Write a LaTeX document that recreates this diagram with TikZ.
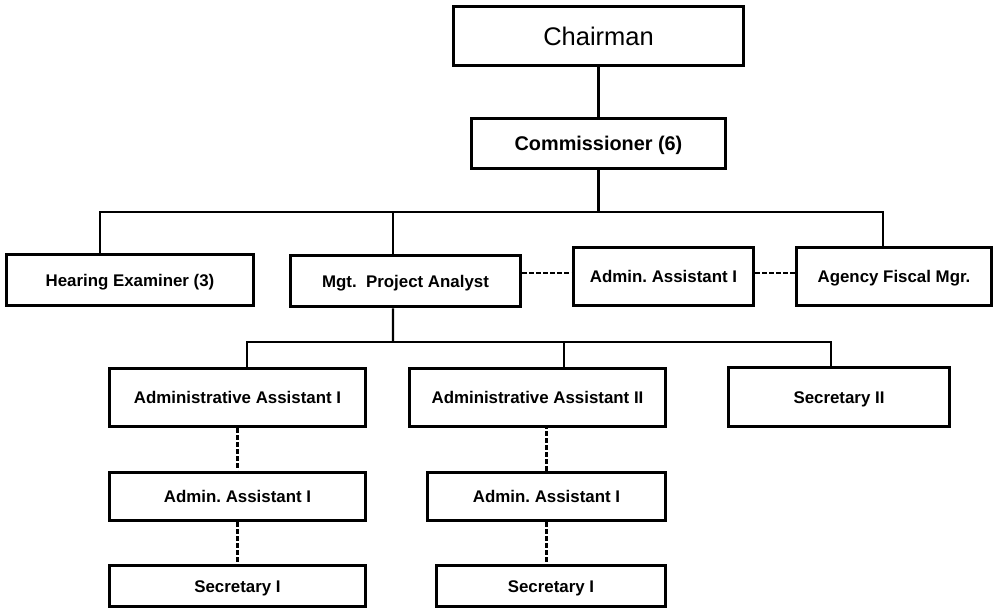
\documentclass[tikz,border=0pt]{standalone}
\usepackage{fontspec}
\setmainfont{Liberation Sans}
\usepackage{tikz}
\usetikzlibrary{positioning}
\frenchspacing

\begin{document}
\begin{tikzpicture}[
    % GLOBAL CFG
    x=0.02cm, y=-0.02cm,
    font=\bfseries\fontsize{9.6}{11}\selectfont,
    % Styles
    post/.style={% For the job boxes
        rectangle,
        draw,
        line width=2.1pt,
        inner sep=1pt,
        text height=8.4pt,
        text depth=1.2pt,
        },
    link/.style={% Solid reporting lines
        line width=1.2pt,
        },
    dotlink/.style={% Dashed lines between boxes
        line width=1.2pt,
        dash pattern=on 2.8pt off 1.2pt,
        },
    ]

    \useasboundingbox (0,0) rectangle (995,613);

    % Draw top boxes
    \node [post, minimum width=5.8cm, minimum height=1.18cm, text height=13pt, text depth=2.4pt, font=\fontsize{14.5}{16}\selectfont] (chair) at (598.5,36) {Chairman};
    \node [post, minimum width=5.08cm, minimum height=1cm, text height=10pt, text depth=1.9pt, font=\bfseries\fontsize{11.3}{13}\selectfont] (comm) at (598.5,143.5) {Commissioner (6)};

    % Draw second row
    \node [post, minimum width=4.94cm, minimum height=1.02cm] (hear) at (130,280) {Hearing Examiner (3)};
    \node [post, minimum width=4.6cm, minimum height=1.02cm] (mgt) at (405.5,281) {Mgt.\ \ Project Analyst};
    \node [post, minimum width=3.6cm, minimum height=1.16cm] (adminA) at (663.5,276.5) {Admin. Assistant I};
    \node [post, minimum width=3.9cm, minimum height=1.16cm] (fisc) at (894,276.5) {Agency Fiscal Mgr.};

    % Draw third row
    \node [post, minimum width=5.12cm, minimum height=1.16cm] (aai) at (237.5,397.5) {Administrative Assistant I};
    \node [post, minimum width=5.12cm, minimum height=1.16cm] (aaii) at (537.5,397.5) {Administrative Assistant II};
    \node [post, minimum width=4.42cm, minimum height=1.18cm] (sec2) at (839,397) {Secretary II};

    % Draw lower boxes
    \node [post, minimum width=5.12cm, minimum height=0.96cm] (admL) at (237.5,496.5) {Admin. Assistant I};
    \node [post, minimum width=5.12cm, minimum height=0.82cm] (secL) at (237.5,586) {Secretary I};
    \node [post, minimum width=4.76cm, minimum height=0.96cm] (admR) at (546.5,496.5) {Admin. Assistant I};
    \node [post, minimum width=4.58cm, minimum height=0.82cm] (secR) at (551,586) {Secretary I};

    % Junctions of the two buses
    \coordinate (bus1) at (598.5,212);
    \coordinate (bus2) at (393,342);

    % Solid lines
    \draw [link] (chair) -- (comm);
    \draw [link] (comm) -- (bus1);
    \draw [link] ([xshift=-0.6cm]hear.north) |- (bus1) -| ([xshift=-0.22cm]fisc.north);
    \draw [link] ([xshift=-0.25cm]mgt.north) -- ([xshift=-0.25cm]mgt.north |- bus1);
    \draw [link] ([xshift=-0.25cm]mgt.south) -- (bus2);
    \draw [link] ([xshift=0.19cm]aai.north) |- (bus2) -| ([xshift=-0.16cm]sec2.north);
    \draw [link] ([xshift=0.53cm]aaii.north) -- ([xshift=0.53cm]aaii.north |- bus2);

    % Dashed lines
    \draw [dotlink] ([yshift=0.07cm]adminA.west -| mgt.east) -- ([yshift=0.07cm]adminA.west);
    \draw [dotlink] ([yshift=0.07cm]adminA.east) -- ([yshift=0.07cm]adminA.east -| fisc.west);
    \draw [dotlink] (aai) -- (admL);
    \draw [dotlink] (admL) -- (secL);
    \draw [dotlink] (admR.north) -- (admR.north |- aaii.south);
    \draw [dotlink] (admR.south) -- (admR.south |- secR.north);

\end{tikzpicture}
\end{document}
